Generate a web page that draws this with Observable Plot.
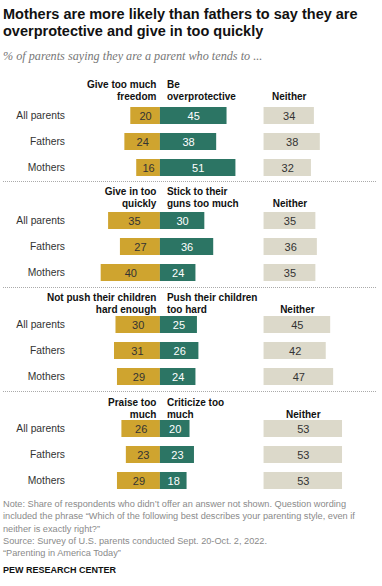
<!DOCTYPE html>
<html><head><meta charset="utf-8">
<script src="https://cdn.jsdelivr.net/npm/d3@7"></script>
<script src="https://cdn.jsdelivr.net/npm/@observablehq/plot@0.6"></script>
<style>
html,body{margin:0;padding:0;background:#fff;}
body{width:382px;height:586px;position:relative;overflow:hidden;font-family:"Liberation Sans",Arial,sans-serif;}
#title{position:absolute;left:3px;top:6px;width:378px;font-weight:bold;font-size:14.5px;line-height:17px;color:#111;}
#subtitle{position:absolute;left:3px;top:49px;font-family:"Liberation Serif",serif;font-style:italic;font-size:12.2px;color:#777;}
.panel{position:absolute;left:0;width:382px;}
.sep{position:absolute;left:3px;width:373px;height:0;border-top:1px dotted #aaa;}
#note{position:absolute;left:3px;top:498px;font-size:9.2px;line-height:12.3px;color:#8a8a8a;}
#pew{position:absolute;left:3px;top:565px;font-size:9px;font-weight:bold;color:#111;}
</style>
</head><body>
<div id="title">Mothers are more likely than fathers to say they are overprotective and give in too quickly</div>
<div id="subtitle">% of parents saying they are a parent who tends to ...</div>
<div id="p0" class="panel"></div>
<div class="sep" style="top:181px"></div>
<div id="p1" class="panel"></div>
<div class="sep" style="top:287px"></div>
<div id="p2" class="panel"></div>
<div class="sep" style="top:391px"></div>
<div id="p3" class="panel"></div>
<div id="note">Note: Share of respondents who didn’t offer an answer not shown. Question wording<br>included the phrase “Which of the following best describes your parenting style, even if<br>neither is exactly right?”<br>Source: Survey of U.S. parents conducted Sept. 20-Oct. 2, 2022.<br>“Parenting in America Today”</div>
<div id="pew">PEW RESEARCH CENTER</div>
<script>
const groups = ["All parents", "Fathers", "Mothers"];
const goldHeaders = ["Give too much\nfreedom", "Give in too\nquickly", "Not push their children\nhard enough", "Praise too\nmuch"];
const greenHeaders = ["Be\noverprotective", "Stick to their\nguns too much", "Push their children\ntoo hard", "Criticize too\nmuch"];
const neitherHeader = "Neither";
const goldValues = [[20, 24, 16], [35, 27, 40], [30, 31, 29], [26, 23, 29]];
const greenValues = [[45, 38, 51], [30, 36, 24], [25, 26, 24], [20, 23, 18]];
const neitherValues = [[34, 38, 32], [35, 36, 35], [45, 42, 47], [53, 53, 53]];

const GOLD = "#cfa42f", GREEN = "#2c7564", BEIGE = "#dcd9ca";
const NEITHER_OFFSET = 70;
const layout = [
  {top: 72, marginTop: 30, height: 109, headerDy: -3},
  {top: 182, marginTop: 25, height: 104, headerDy: -1},
  {top: 288, marginTop: 23, height: 102, headerDy: 1},
  {top: 392, marginTop: 23, height: 102, headerDy: 2}
];
const FONT = "'Liberation Sans', Arial, sans-serif";

layout.forEach((L, i) => {
  const rows = groups.map((g, j) => ({group: g, gold: goldValues[i][j], green: greenValues[i][j], neither: neitherValues[i][j]}));
  const chart = Plot.plot({
    width: 382, height: L.height,
    marginTop: L.marginTop, marginBottom: L.height - L.marginTop - 78, marginLeft: 0, marginRight: 0,
    x: {domain: [-108, 150], axis: null},
    y: {domain: groups, axis: null, paddingInner: 0.36, paddingOuter: 0.18},
    style: {fontFamily: FONT, fontSize: "10.3px", color: "#333", background: "transparent", overflow: "visible"},
    marks: [
      Plot.barX(rows, {y: "group", x1: 0, x2: d => -d.gold, fill: GOLD}),
      Plot.barX(rows, {y: "group", x1: 0, x2: "green", fill: GREEN}),
      Plot.barX(rows, {y: "group", x1: NEITHER_OFFSET, x2: d => NEITHER_OFFSET + d.neither, fill: BEIGE}),
      Plot.text(rows, {y: "group", x: d => -d.gold / 2, text: "gold", fill: "#333", fontSize: 11}),
      Plot.text(rows, {y: "group", x: d => d.green / 2, text: "green", fill: "#fff", fontSize: 11}),
      Plot.text(rows, {y: "group", x: d => NEITHER_OFFSET + d.neither / 2, text: "neither", fill: "#333", fontSize: 11}),
      Plot.text(rows, {y: "group", frameAnchor: "left", dx: 64.5, textAnchor: "end", text: "group", fill: "#333"}),
      Plot.text([goldHeaders[i]], {x: 0, frameAnchor: "top", dx: -4, dy: L.headerDy, textAnchor: "end", lineAnchor: "bottom", lineHeight: 1.2, fontWeight: "bold", fontSize: 10, fill: "#111", text: d => d}),
      Plot.text([greenHeaders[i]], {x: 0, frameAnchor: "top", dx: 6.5, dy: L.headerDy, textAnchor: "start", lineAnchor: "bottom", lineHeight: 1.2, fontWeight: "bold", fontSize: 10, fill: "#111", text: d => d}),
      Plot.text([rows[0]], {x: d => NEITHER_OFFSET + d.neither / 2, frameAnchor: "top", dy: L.headerDy, lineAnchor: "bottom", fontWeight: "bold", fontSize: 10, fill: "#111", text: () => neitherHeader})
    ]
  });
  const el = document.getElementById("p" + i);
  el.style.top = L.top + "px";
  el.appendChild(chart);
});
</script>
</body></html>
